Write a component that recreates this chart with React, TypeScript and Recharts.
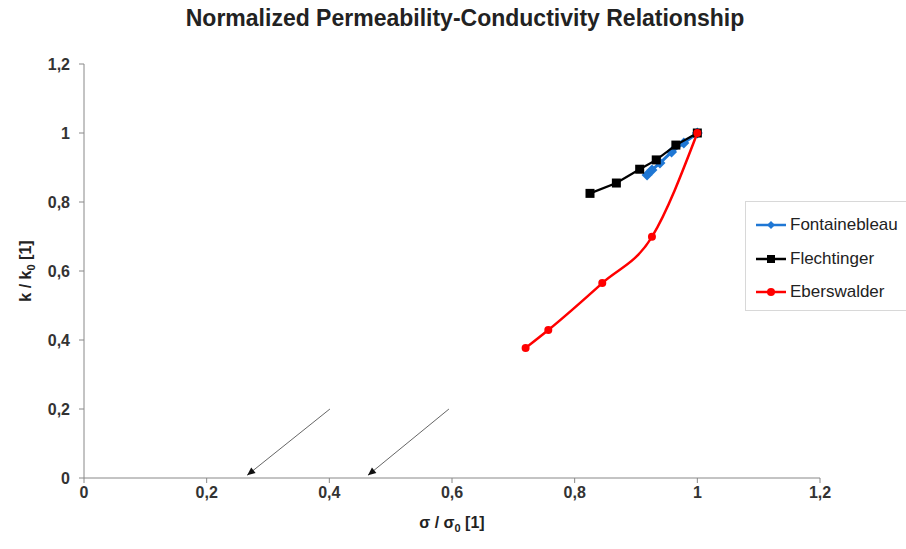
import React from 'react';
import {
  ScatterChart,
  Scatter,
  XAxis,
  YAxis,
  Legend,
  ReferenceLine,
} from 'recharts';

const axisTicks = [0, 0.2, 0.4, 0.6, 0.8, 1, 1.2];

const fontainebleauX = [0.918, 0.926, 0.939, 0.958, 0.978, 1];
const fontainebleauY = [0.878, 0.893, 0.913, 0.945, 0.971, 1];

const flechtingerX = [0.825, 0.868, 0.906, 0.933, 0.965, 1];
const flechtingerY = [0.825, 0.855, 0.895, 0.922, 0.965, 1];

const eberswalderX = [0.72, 0.757, 0.845, 0.926, 1];
const eberswalderY = [0.377, 0.429, 0.565, 0.699, 1];

// annotation arrows: start (upper right) -> tip (near x axis)
const arrowStartX = [0.401, 0.595];
const arrowStartY = [0.2, 0.2];
const arrowTipX = [0.266, 0.463];
const arrowTipY = [0.008, 0.008];

const zip = (xs: number[], ys: number[]) => xs.map((x, i) => ({ x, y: ys[i] }));

const fontainebleau = zip(fontainebleauX, fontainebleauY);
const flechtinger = zip(flechtingerX, flechtingerY);
const eberswalder = zip(eberswalderX, eberswalderY);

const FONT = '"Liberation Sans", Arial, sans-serif';
const fmt = (v: number) => String(v).replace('.', ',');

const Diamond = ({ cx, cy, color, r = 5.5 }: any) => (
  <polygon
    points={`${cx},${cy - r} ${cx + r},${cy} ${cx},${cy + r} ${cx - r},${cy}`}
    fill={color}
  />
);
const Square = ({ cx, cy, color, s = 9 }: any) => (
  <rect x={cx - s / 2} y={cy - s / 2} width={s} height={s} fill={color} />
);
const Dot = ({ cx, cy, color, r = 4 }: any) => <circle cx={cx} cy={cy} r={r} fill={color} />;

const series = [
  { name: 'Fontainebleau', color: '#1f77d4', Marker: Diamond },
  { name: 'Flechtinger', color: '#000000', Marker: Square },
  { name: 'Eberswalder', color: '#ff0000', Marker: Dot },
];

const Arrow = (p: any) => {
  const { x1, y1, x2, y2 } = p;
  const a = Math.atan2(y2 - y1, x2 - x1);
  const len = 8;
  const w = 3.5;
  const bx = x2 - len * Math.cos(a);
  const by = y2 - len * Math.sin(a);
  const nx = -Math.sin(a) * w;
  const ny = Math.cos(a) * w;
  return (
    <g>
      <line x1={x1} y1={y1} x2={x2} y2={y2} stroke="#666" strokeWidth={1} />
      <polygon points={`${x2},${y2} ${bx + nx},${by + ny} ${bx - nx},${by - ny}`} fill="#111" />
    </g>
  );
};

const LegendBox = () => (
  <div
    style={{
      border: '1px solid #d8d8d8',
      background: '#fff',
      height: 110,
      boxSizing: 'border-box',
      paddingTop: 8,
      fontFamily: FONT,
      fontSize: 17,
      color: '#222',
    }}
  >
    {series.map(({ name, color, Marker }) => (
      <div key={name} style={{ display: 'flex', alignItems: 'center', height: 36.5, marginTop: -3 }}>
        <svg width={44} height={14}>
          <line x1={10} y1={7} x2={40} y2={7} stroke={color} strokeWidth={2.5} />
          <Marker cx={25} cy={7} color={color} r={4} s={8} />
        </svg>
        <span>{name}</span>
      </div>
    ))}
  </div>
);

const XLabel = ({ viewBox }: any) => {
  const cx = viewBox.x + viewBox.width / 2;
  return (
    <text x={cx} y={viewBox.y + 50} textAnchor="middle" fontFamily={FONT} fontSize={16} fontWeight="bold" fill="#222">
      σ / σ<tspan fontSize={11} dy={4}>0</tspan>
      <tspan dy={-4}> [1]</tspan>
    </text>
  );
};

const YLabel = ({ viewBox }: any) => {
  const cy = viewBox.y + viewBox.height / 2;
  const x = 31;
  return (
    <text
      x={x}
      y={cy}
      textAnchor="middle"
      transform={`rotate(-90 ${x} ${cy})`}
      fontFamily={FONT}
      fontSize={16}
      fontWeight="bold"
      fill="#222"
    >
      k / k<tspan fontSize={11} dy={4}>0</tspan>
      <tspan dy={-4}> [1]</tspan>
    </text>
  );
};

const tickStyle = { fontFamily: FONT, fontSize: 16, fontWeight: 'bold', fill: '#333' };

export default function App() {
  return (
    <div
      style={{
        position: 'absolute',
        left: 0,
        top: 0,
        width: 906,
        height: 549,
        overflow: 'hidden',
        background: '#fff',
      }}
    >
      <div
        style={{
          position: 'absolute',
          top: 5,
          left: 0,
          width: 930,
          textAlign: 'center',
          fontFamily: FONT,
          fontWeight: 'bold',
          fontSize: 23,
          color: '#222',
        }}
      >
        Normalized Permeability-Conductivity Relationship
      </div>
      <ScatterChart width={906} height={549} margin={{ top: 64, right: 86, bottom: 0, left: 0 }}>
        <XAxis
          type="number"
          dataKey="x"
          domain={[0, 1.2]}
          ticks={axisTicks}
          tickFormatter={fmt}
          tick={tickStyle}
          tickSize={5}
          tickMargin={4}
          height={71}
          stroke="#888"
          label={<XLabel />}
        />
        <YAxis
          type="number"
          dataKey="y"
          domain={[0, 1.2]}
          ticks={axisTicks}
          tickFormatter={fmt}
          tick={tickStyle}
          tickSize={5}
          tickMargin={9}
          width={84}
          stroke="#888"
          label={<YLabel />}
        />
        {arrowStartX.map((x, i) => (
          <ReferenceLine
            key={`arrow-${i}`}
            segment={[
              { x, y: arrowStartY[i] },
              { x: arrowTipX[i], y: arrowTipY[i] },
            ]}
            shape={Arrow}
          />
        ))}
        <Scatter
          name="Fontainebleau"
          data={fontainebleau}
          isAnimationActive={false}
          line={{ stroke: series[0].color, strokeWidth: 3 }}
          lineType="joint"
          shape={(p: any) => <Diamond cx={p.cx} cy={p.cy} color={series[0].color} />}
        />
        <Scatter
          name="Flechtinger"
          data={flechtinger}
          isAnimationActive={false}
          line={{ stroke: series[1].color, strokeWidth: 2.2 }}
          lineType="joint"
          shape={(p: any) => <Square cx={p.cx} cy={p.cy} color={series[1].color} />}
        />
        <Scatter
          name="Eberswalder"
          data={eberswalder}
          isAnimationActive={false}
          line={{ stroke: series[2].color, strokeWidth: 2.5 }}
          lineType="joint"
          lineJointType="monotoneX"
          shape={(p: any) => <Dot cx={p.cx} cy={p.cy} color={series[2].color} />}
        />
        <Legend
          layout="vertical"
          align="center"
          verticalAlign="middle"
          content={<LegendBox />}
          wrapperStyle={{ left: 745, top: 201, width: 175, height: 112 }}
        />
      </ScatterChart>
    </div>
  );
}
